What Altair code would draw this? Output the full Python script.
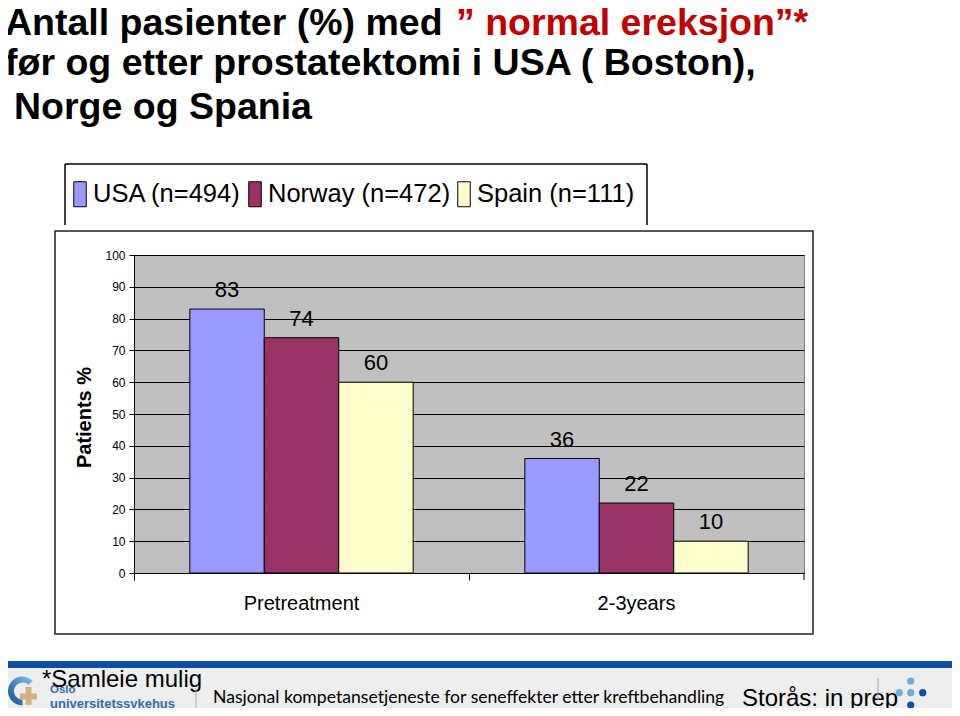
import altair as alt
import pandas as pd

# ---------------- data ----------------
groups = ["Pretreatment", "2-3years"]
countries = ["USA (n=494)", "Norway (n=472)", "Spain (n=111)"]
usa_values = [83, 36]
norway_values = [74, 22]
spain_values = [60, 10]
bar_colors = ["#9999FF", "#993366", "#FFFFCC"]
y_ticks = [0, 10, 20, 30, 40, 50, 60, 70, 80, 90, 100]

rows = []
for country, vals in zip(countries, [usa_values, norway_values, spain_values]):
    for g, v in zip(groups, vals):
        rows.append({"group": g, "country": country, "value": v})
df = pd.DataFrame(rows)

# plot-area origin on the page
OX, OY = 134, 255
W, H = 670, 318
FONT = "Liberation Sans, Arial, sans-serif"

one = pd.DataFrame({"k": [0]})


def px(x):
    return x - OX


def py(y):
    return y - OY


def deco_text(text, x, y, size, color="black", weight="normal", font=FONT, align="left", baseline="alphabetic"):
    return alt.Chart(one).mark_text(
        align=align, baseline=baseline, fontSize=size, font=font,
        fontWeight=weight, color=color
    ).encode(x=alt.value(px(x)), y=alt.value(py(y)), text=alt.value(text))


def deco_rule(x1, y1, x2, y2, color="black", width=1.0):
    return alt.Chart(one).mark_rule(color=color, strokeWidth=width).encode(
        x=alt.value(px(x1)), y=alt.value(py(y1)), x2=alt.value(px(x2)), y2=alt.value(py(y2))
    )


def deco_rect(x1, y1, x2, y2, **kw):
    return alt.Chart(one).mark_rect(**kw).encode(
        x=alt.value(px(x1)), y=alt.value(py(y1)), x2=alt.value(px(x2)), y2=alt.value(py(y2))
    )


def deco_dot(x, y, color, size=52):
    return alt.Chart(one).mark_circle(color=color, opacity=1, size=size).encode(
        x=alt.value(px(x)), y=alt.value(py(y))
    )


# ---------------- main bars ----------------
x_enc = alt.X(
    "group:N", sort=groups,
    scale=alt.Scale(paddingInner=0, paddingOuter=0),
    axis=alt.Axis(
        title=None, bandPosition=0, labelAngle=0,
        labelFontSize=20, labelFont=FONT, labelColor="black", labelPadding=13,
        tickSize=7, tickColor="black", domainColor="black", grid=False,
    ),
)
xoff_enc = alt.XOffset("country:N", sort=countries,
                       scale=alt.Scale(paddingInner=0, paddingOuter=0.75))
y_enc = alt.Y(
    "value:Q", scale=alt.Scale(domain=[0, 100], nice=False),
    axis=alt.Axis(
        values=y_ticks, grid=True, gridColor="black", gridWidth=1.2,
        domainColor="black", tickColor="black", tickSize=5,
        labelFontSize=12, labelFont=FONT, labelColor="black", labelPadding=4,
        title="Patients %", titleFont=FONT, titleFontSize=20, titleFontWeight="bold",
        titleColor="black", titleAngle=270, titleAlign="center", titleBaseline="bottom",
        titleX=-40, titleY=162,
    ),
)

bars = alt.Chart(df).mark_bar(stroke="black", strokeWidth=1, opacity=1).encode(
    x=x_enc, xOffset=xoff_enc, y=y_enc,
    color=alt.Color(
        "country:N", sort=countries,
        scale=alt.Scale(domain=countries, range=bar_colors),
        legend=alt.Legend(
            orient="none", legendX=-67, legendY=-74, direction="horizontal", columns=3,
            title=None, padding=0, symbolType="M-0.5,-1H0.5V1H-0.5Z", symbolSize=625,
            symbolStrokeColor="black", symbolStrokeWidth=1, symbolOpacity=1,
            labelFont=FONT, labelFontSize=25.5, labelColor="black", labelLimit=0,
            labelOffset=0, columnPadding=0,
        ),
    ),
)

labels = alt.Chart(df).mark_text(
    baseline="alphabetic", dy=-12, fontSize=22, font=FONT, color="black"
).encode(x=x_enc, xOffset=xoff_enc, y=y_enc, text=alt.Text("value:Q"))

# ---------------- decorations ----------------
layers = [
    # outer chart frame
    deco_rect(55, 231, 813, 634, filled=False, stroke="#222222", strokeWidth=1.5),
    # legend frame (open at bottom)
    deco_rule(65, 164, 647, 164, width=1.5),
    deco_rule(65, 164, 65, 225, width=1.5),
    deco_rule(647, 164, 647, 225, width=1.5),
    # right-hand x tick
    deco_rule(804, 573, 804, 580),
    bars,
    labels,
    # title
    deco_text("Antall pasienter (%) med", 5, 35, 37.5, weight="bold"),
    deco_text("\u201d normal ereksjon\u201d*", 456, 35, 37.5, color="#C00000", weight="bold"),
    deco_text("før og etter prostatektomi i USA ( Boston),", 5, 75, 37.5, weight="bold"),
    deco_text("Norge og Spania", 14, 119, 37.5, weight="bold"),
    # footer
    deco_rect(5, 668, 957, 716, color="#EEEEEE"),
    deco_rect(5, 661, 957, 668, color="#0D4EA6"),
    alt.Chart(one).mark_arc(
        fill=alt.Gradient(gradient="linear",
                          stops=[alt.GradientStop(color="#8CC3EA", offset=0),
                                 alt.GradientStop(color="#0B4A9A", offset=1)],
                          x1=1, y1=0, x2=0, y2=1)
    ).encode(
        x=alt.value(px(22.5)), y=alt.value(py(691)),
        theta=alt.value(3.14159), theta2=alt.value(7.07),
        radius=alt.value(14.5), radius2=alt.value(8.5),
    ),
    deco_rect(20, 693.5, 37, 699.5, color="#D2B27C"),
    deco_rect(25.5, 687, 31.5, 705, color="#D2B27C"),
    deco_text("Oslo", 50, 693, 11.5, color="#2D6DB5", weight="bold"),
    deco_text("universitetssykehus", 50, 708, 13, color="#2D6DB5", weight="bold"),
    deco_text("*Samleie mulig", 42, 687, 24),
    deco_rule(196, 688, 196, 711, color="#A0B4C8"),
    deco_text("Nasjonal kompetansetjeneste for seneffekter etter kreftbehandling", 213, 703, 17.6,
              font="Lato, Open Sans, sans-serif"),
    deco_text("Storås: in prep", 742, 706, 24),
    deco_rule(878, 678, 878, 700, color="#8FA7C0"),
    deco_dot(910.7, 681, "#6BAEE0"),
    deco_dot(899.3, 692.7, "#6BAEE0"),
    deco_dot(910.7, 692.7, "#6BAEE0"),
    deco_dot(922.7, 692.7, "#0D4EA6"),
    deco_dot(910.7, 705, "#0D4EA6"),
]

chart = alt.layer(*layers).properties(
    width=W, height=H,
    autosize=alt.AutoSizeParams(type="none"),
    padding={"left": OX - 8, "top": OY - 8, "right": 148, "bottom": 716 - 8 - OY - H},
    background="white",
).configure_view(fill="#C0C0C0", stroke="#808080", strokeWidth=1)

chart.save("out.html", embed_options={"renderer": "svg", "actions": False})
